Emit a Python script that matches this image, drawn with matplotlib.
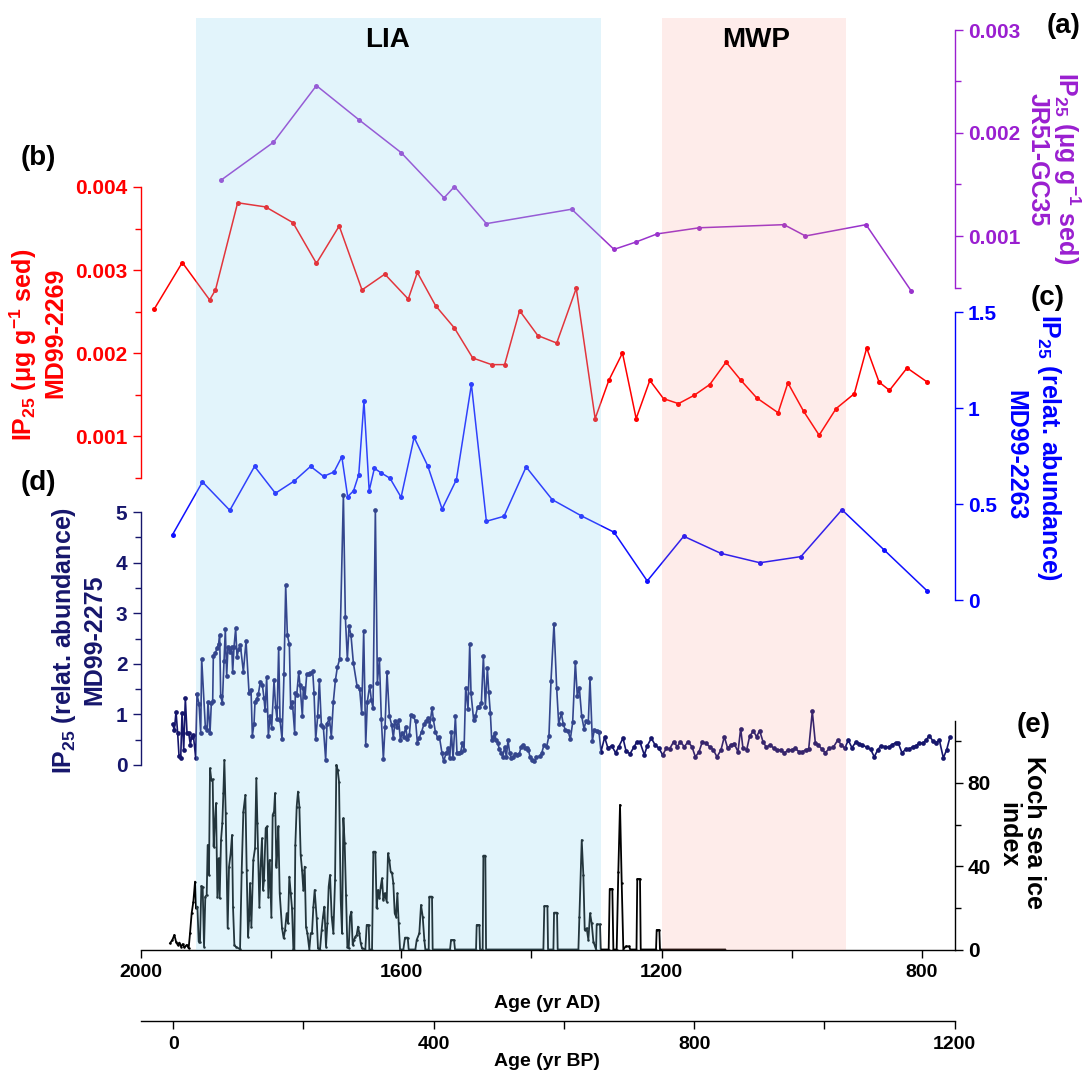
import matplotlib
matplotlib.use('Agg')
import matplotlib.pyplot as plt
from matplotlib.ticker import FixedLocator, FixedFormatter

plt.rcParams['font.family'] = ['Liberation Sans', 'DejaVu Sans']
plt.rcParams['font.weight'] = 'bold'
plt.rcParams['mathtext.fontset'] = 'custom'
plt.rcParams['mathtext.rm'] = 'Liberation Sans:bold'
plt.rcParams['mathtext.it'] = 'Liberation Sans:bold'
plt.rcParams['mathtext.bf'] = 'Liberation Sans:bold'
plt.rcParams['mathtext.default'] = 'rm'

# ---------------- data ----------------
LIA = (1915, 1293)
MWP = (1200, 917)

# (a) JR51-GC35 IP25 (ug/g sed)
a_age = [1877, 1796, 1730, 1665, 1600, 1534, 1518, 1469, 1338, 1273, 1240, 1207,
         1142, 1012, 979, 886, 817]
a_val = [0.00154, 0.00191, 0.00246, 0.00213, 0.00181, 0.00137, 0.00148, 0.00112,
         0.00126, 0.00087, 0.00094, 0.00102, 0.00108, 0.00111, 0.00100, 0.00111, 0.00047]

# (b) MD99-2269 IP25 (ug/g sed)
b_age = [1979, 1936, 1894, 1885, 1851, 1808, 1766, 1730, 1695, 1660,
         1625, 1589, 1575, 1547, 1518, 1490, 1461, 1441, 1418, 1390,
         1361, 1331, 1302, 1281, 1260, 1239, 1218, 1197, 1174, 1150,
         1126, 1101, 1078, 1054, 1021, 1006, 982, 958, 932, 904,
         885, 866, 850, 823, 792]
b_val = [0.00253, 0.00309, 0.00264, 0.00276, 0.00381, 0.00376, 0.00357, 0.00308, 0.00353, 0.00276,
         0.00295, 0.00265, 0.00297, 0.00257, 0.00230, 0.00194, 0.00186, 0.00186, 0.00251, 0.00221,
         0.00212, 0.00278, 0.00121, 0.00167, 0.00200, 0.00121, 0.00167, 0.00145, 0.00139, 0.00149,
         0.00162, 0.00189, 0.00167, 0.00146, 0.00128, 0.00164, 0.00130, 0.00101, 0.00133, 0.00151,
         0.00206, 0.00165, 0.00155, 0.00182, 0.00165]

# (c) MD99-2263 IP25 (relative abundance)
c_age = [1951, 1905, 1863, 1825, 1793, 1764, 1739, 1719, 1703, 1691,
         1682, 1673, 1665, 1657, 1649, 1641, 1631, 1617, 1600, 1580,
         1559, 1537, 1515, 1492, 1469, 1442, 1408, 1368, 1323, 1273,
         1222, 1166, 1109, 1049, 986, 923, 858, 792]
c_val = [0.340, 0.615, 0.467, 0.696, 0.556, 0.620, 0.696, 0.644, 0.667, 0.746,
         0.538, 0.569, 0.653, 1.036, 0.569, 0.686, 0.663, 0.634, 0.535, 0.847,
         0.698, 0.474, 0.627, 1.123, 0.410, 0.436, 0.693, 0.523, 0.438, 0.353,
         0.099, 0.332, 0.243, 0.194, 0.226, 0.470, 0.260, 0.047]

# (d) MD99-2275 IP25 (relative abundance)
d_age = [1950.7, 1948.2, 1945.6, 1943.1, 1941.0, 1938.4, 1936.4, 1933.8, 1931.3, 1928.7,
         1926.2, 1923.6, 1921.6, 1919.0, 1915.4, 1913.4, 1910.3, 1907.7, 1906.2, 1900.6,
         1898.0, 1896.5, 1893.4, 1891.4, 1889.3, 1888.3, 1885.2, 1882.7, 1880.1, 1878.6,
         1877.0, 1874.5, 1871.9, 1869.9, 1867.8, 1865.8, 1862.7, 1860.1, 1858.6, 1856.5,
         1854.0, 1851.9, 1849.4, 1846.8, 1842.2, 1838.1, 1833.5, 1830.4, 1828.4, 1825.8,
         1824.3, 1821.7, 1819.2, 1816.1, 1813.0, 1810.5, 1808.9, 1806.4, 1803.8, 1801.3,
         1798.7, 1795.1, 1792.6, 1790.5, 1788.0, 1785.9, 1782.8, 1779.8, 1777.2, 1774.6,
         1771.6, 1769.5, 1767.0, 1763.4, 1762.4, 1760.3, 1757.2, 1755.2, 1751.6, 1750.1,
         1747.5, 1744.9, 1741.4, 1739.3, 1735.7, 1733.7, 1731.1, 1728.1, 1725.5, 1722.4,
         1719.4, 1715.8, 1713.7, 1710.1, 1707.1, 1704.0, 1700.9, 1697.9, 1694.3, 1688.6,
         1685.6, 1682.5, 1679.9, 1676.9, 1673.3, 1667.6, 1663.6, 1660.5, 1657.4, 1654.3,
         1651.8, 1648.2, 1645.6, 1643.1, 1639.5, 1636.4, 1633.3, 1630.3, 1627.2, 1624.6,
         1621.6, 1618.0, 1614.4, 1611.9, 1609.3, 1606.7, 1603.7, 1601.1, 1598.5, 1596.0,
         1592.9, 1590.4, 1587.3, 1584.7, 1581.1, 1577.6, 1575.0, 1572.0, 1568.4, 1564.8,
         1561.7, 1558.6, 1556.1, 1552.5, 1550.4, 1547.4, 1543.8, 1541.2, 1537.1, 1534.6,
         1531.0, 1527.9, 1525.3, 1522.8, 1520.2, 1516.6, 1514.1, 1511.0, 1508.4, 1505.9,
         1503.3, 1500.8, 1497.2, 1494.6, 1492.6, 1488.5, 1485.9, 1482.3, 1479.8, 1476.7,
         1473.6, 1470.6, 1467.5, 1465.4, 1462.9, 1460.8, 1458.3, 1456.2, 1454.2, 1451.6,
         1449.1, 1446.0, 1443.9, 1440.9, 1438.3, 1435.8, 1433.2, 1430.6, 1427.6, 1424.5,
         1421.9, 1418.4, 1415.8, 1413.2, 1410.2, 1407.1, 1404.5, 1402.0, 1398.4, 1395.3,
         1392.2,
         1386.7, 1384.1, 1380.6, 1376.5, 1372.9, 1369.8, 1365.2, 1361.1, 1358.0, 1353.9,
         1350.9, 1347.8, 1343.7, 1340.1, 1336.5, 1332.4, 1329.4, 1326.3, 1322.7, 1319.1,
         1316.1, 1312.5, 1309.9, 1306.3, 1303.3, 1299.7, 1296.1, 1293.0, 1287.4, 1282.3,
         1276.6, 1270.5, 1265.9, 1259.2, 1254.6, 1248.5, 1242.3, 1237.7, 1233.1, 1226.5,
         1221.9, 1215.7, 1210.1, 1204.0, 1198.3, 1192.7, 1187.6, 1181.4, 1175.8, 1171.2,
         1165.0, 1159.4, 1153.3, 1148.1, 1142.5, 1137.4, 1131.8, 1126.1, 1120.5, 1114.9,
         1108.7, 1103.6, 1098.5, 1093.4, 1088.3, 1082.6, 1078.5, 1075.0, 1069.3, 1064.7,
         1059.1, 1054.0, 1049.4, 1044.2, 1039.1, 1033.0, 1027.9, 1022.7, 1016.6, 1011.5,
         1005.8, 1000.2, 994.6, 988.9, 983.8, 978.7, 974.1, 968.5, 963.9, 959.8,
         954.1, 948.5, 942.4, 936.2, 929.6, 923.9, 918.8, 913.2, 907.6, 901.4,
         896.3, 891.7, 885.0, 878.9, 873.3, 868.1, 863.0, 856.9, 851.2, 846.1,
         840.5, 836.4, 830.8, 825.1, 820.0, 814.4, 809.3, 804.1, 799.0, 793.9,
         788.8, 783.7, 778.5, 773.4, 767.3, 762.2, 757.1]
d_val = [0.81, 0.69, 1.05, 0.63, 0.18, 0.13, 1.03, 0.30, 1.32, 0.63,
         0.64, 0.40, 0.56, 0.59, 0.14, 1.40, 1.21, 0.63, 2.10, 0.76,
         0.69, 1.25, 0.64, 1.22, 1.26, 2.15, 2.21, 2.31, 2.39, 2.57,
         1.37, 1.22, 2.06, 2.68, 1.76, 2.34, 2.24, 2.34, 1.84, 2.34,
         2.70, 2.14, 2.29, 2.37, 1.84, 2.45, 1.43, 1.48, 0.58, 0.82,
         1.25, 1.30, 1.40, 1.65, 1.58, 1.32, 1.09, 1.73, 0.58, 0.96,
         0.74, 1.67, 1.14, 0.91, 2.32, 0.89, 0.51, 1.80, 3.55, 2.56,
         2.39, 1.15, 1.25, 0.64, 1.42, 1.38, 1.83, 1.58, 0.96, 1.52,
         1.34, 1.80, 1.80, 1.82, 1.85, 1.43, 0.51, 0.96, 1.68, 0.79,
         0.76, 0.10, 0.82, 0.92, 0.56, 1.25, 1.67, 1.93, 2.09, 5.34,
         2.93, 2.09, 2.75, 2.56, 2.02, 1.56, 1.50, 1.02, 2.64, 0.40,
         1.25, 1.57, 1.28, 1.12, 5.04, 1.63, 2.09, 0.90, 0.12, 0.76,
         1.84, 0.97, 0.79, 0.54, 0.86, 0.76, 0.88, 0.49, 0.63, 0.56,
         0.76, 0.51, 0.59, 0.99, 0.96, 0.86, 0.44, 0.54, 0.66, 0.81,
         0.86, 0.92, 0.77, 1.12, 0.90, 0.66, 0.53, 0.56, 0.23, 0.07,
         0.23, 0.33, 0.13, 0.66, 0.13, 0.96, 0.23, 0.23, 0.26, 0.43,
         0.30, 1.53, 1.10, 2.39, 1.42, 0.88, 0.96, 1.15, 1.15, 1.23,
         2.15, 1.15, 1.91, 1.45, 1.02, 0.49, 0.56, 0.64, 0.49, 0.44,
         0.31, 0.24, 0.16, 0.36, 0.16, 0.49, 0.23, 0.13, 0.16, 0.22,
         0.20, 0.22, 0.36, 0.40, 0.33, 0.34, 0.30, 0.16, 0.10, 0.07,
         0.15,
         0.18, 0.23, 0.40, 0.36, 0.58, 1.66, 2.79, 1.53, 0.82, 1.02,
         0.81, 0.69, 0.68, 0.51, 0.84, 2.04, 1.36, 1.53, 0.97, 0.72,
         0.86, 0.84, 1.71, 0.48, 0.69, 0.68, 0.66, 0.26, 0.55, 0.33,
         0.38, 0.24, 0.36, 0.53, 0.28, 0.22, 0.36, 0.46, 0.45, 0.20,
         0.38, 0.53, 0.40, 0.33, 0.20, 0.33, 0.32, 0.46, 0.36, 0.46,
         0.36, 0.46, 0.36, 0.16, 0.26, 0.46, 0.43, 0.36, 0.30, 0.16,
         0.30, 0.56, 0.33, 0.40, 0.42, 0.26, 0.72, 0.33, 0.30, 0.57,
         0.67, 0.56, 0.68, 0.46, 0.35, 0.40, 0.33, 0.30, 0.30, 0.23,
         0.30, 0.30, 0.33, 0.26, 0.26, 0.30, 0.31, 1.06, 0.44, 0.40,
         0.32, 0.24, 0.33, 0.35, 0.49, 0.40, 0.33, 0.49, 0.34, 0.46,
         0.42, 0.40, 0.35, 0.31, 0.16, 0.30, 0.38, 0.36, 0.35, 0.40,
         0.44, 0.43, 0.24, 0.31, 0.31, 0.36, 0.38, 0.44, 0.43, 0.49,
         0.58, 0.48, 0.44, 0.49, 0.14, 0.30, 0.55]

# (e) Koch sea ice index
e_age = [1954.8, 1951.2, 1948.2, 1945.6, 1943.1, 1940.5, 1937.9, 1935.4, 1932.8, 1929.2,
         1926.2, 1924.1, 1921.6, 1919.0, 1916.4, 1914.9, 1912.8, 1910.8, 1908.8, 1906.7,
         1904.7, 1902.6, 1900.6, 1898.5, 1897.0, 1895.0, 1893.4, 1891.4, 1889.3, 1887.8,
         1886.2, 1884.2, 1882.1, 1880.1, 1878.6, 1876.5, 1874.5, 1872.9, 1871.4, 1869.3,
         1866.3, 1864.2, 1861.7, 1859.6, 1858.1, 1856.0, 1854.0, 1847.3, 1844.8, 1842.2,
         1839.1, 1837.1, 1835.0, 1833.5, 1832.0, 1829.9, 1826.9, 1824.3, 1822.3, 1820.7,
         1817.6, 1815.6, 1813.6, 1812.0, 1810.5, 1807.9, 1805.9, 1803.8, 1801.8, 1799.2,
         1797.2, 1795.1, 1793.6, 1791.5, 1790.0, 1788.5, 1786.4, 1782.8, 1780.3, 1778.2,
         1775.7, 1773.6, 1771.6, 1769.5, 1767.5, 1765.4, 1763.9, 1762.4, 1760.3, 1758.3,
         1756.2, 1754.2, 1752.1, 1750.1, 1748.0, 1746.0, 1743.9, 1740.9, 1738.8, 1736.8,
         1734.7, 1732.7, 1729.6, 1727.6, 1724.5, 1722.0, 1719.9, 1717.8, 1715.3, 1713.2,
         1711.2, 1709.1, 1706.6, 1704.0, 1701.4, 1699.4, 1697.3, 1695.3, 1692.7, 1690.7,
         1688.6, 1686.6, 1684.5, 1682.5, 1680.4, 1678.4, 1676.4, 1674.3, 1672.3, 1670.2,
         1668.2, 1666.1, 1664.1, 1662.0, 1660.0, 1654.9, 1652.8, 1649.7, 1648.7, 1644.6,
         1642.6, 1639.5, 1637.5, 1635.4, 1633.3, 1631.3, 1629.3, 1627.2, 1625.2, 1622.1,
         1620.1, 1618.0, 1616.0, 1613.9, 1611.9, 1609.8, 1607.8, 1605.7, 1603.7, 1601.6,
         1596.5, 1594.0, 1589.8, 1588.3, 1578.1, 1576.0, 1572.0, 1569.4, 1566.8, 1564.3,
         1562.7, 1557.6, 1556.6, 1552.5, 1551.5, 1524.8, 1523.3, 1518.7, 1517.2, 1484.9,
         1483.9, 1479.8, 1478.8, 1474.7, 1473.6, 1470.6, 1469.5, 1381.5, 1380.0, 1375.3,
         1374.3, 1366.1, 1365.1, 1360.5, 1359.5, 1327.7, 1326.2, 1322.6, 1320.1, 1318.0,
         1315.0, 1312.4, 1309.8, 1307.3, 1304.7, 1300.6, 1299.6, 1294.5, 1293.5, 1281.2,
         1279.6, 1275.6, 1274.0, 1268.9, 1266.4, 1263.8, 1261.2, 1258.7, 1255.0, 1250.0,
         1248.0, 1238.5, 1237.3, 1233.1, 1232.0, 1208.5, 1207.5, 1203.4, 1202.4, 1102.6]
e_val = [3.0, 4.6, 7.0, 3.8, 2.2, 3.3, 1.4, 2.6, 1.0, 2.2,
         0.6, 7.8, 17.4, 23.0, 32.6, 19.8, 20.6, 3.8, 3.8, 30.5,
         30.2, 1.4, 25.4, 26.2, 50.2, 35.8, 87.1, 81.5, 81.8, 49.4,
         59.9, 70.3, 25.4, 43.8, 24.6, 52.6, 60.7, 75.1, 91.1, 65.5,
         10.2, 39.8, 46.2, 55.0, 20.6, 2.2, 1.4, 0.1, 37.4, 66.3,
         74.3, 38.2, 6.2, 14.2, 31.8, 11.0, 43.0, 48.6, 82.3, 60.7,
         20.6, 40.6, 53.4, 28.6, 33.4, 58.3, 59.1, 25.4, 43.0, 15.8,
         64.7, 66.3, 75.1, 39.8, 47.8, 59.1, 27.0, 10.2, 5.4, 9.4,
         17.4, 12.6, 35.0, 27.0, 19.8, 0.1, 0.0, 50.2, 68.7, 75.9,
         68.7, 45.4, 38.2, 28.6, 39.8, 11.0, 7.8, 0.0, 7.8, 7.8,
         20.6, 28.6, 15.0, 0.6, 0.0, 9.4, 15.8, 20.6, 1.4, 12.6,
         30.2, 35.8, 15.8, 7.8, 33.4, 88.7, 86.3, 80.7, 23.8, 7.8,
         63.1, 51.0, 26.2, 1.4, 0.6, 15.8, 18.2, 2.2, 4.6, 6.2,
         7.0, 11.0, 7.8, 3.0, 0.6, 0.0, 11.8, 11.8, 0.0, 0.0,
         47.0, 47.0, 19.8, 28.6, 24.6, 30.2, 34.2, 23.8, 27.0, 23.0,
         46.2, 43.0, 37.4, 36.6, 31.8, 17.4, 15.8, 27.0, 12.6, 0.0,
         0.0, 5.7, 5.7, 0.0, 0.0, 4.6, 7.8, 21.4, 15.8, 4.6,
         0.0, 0.0, 25.4, 25.4, 0.0, 0.0, 4.6, 4.6, 0.0, 0.0,
         11.8, 11.8, 0.0, 0.0, 45.1, 45.1, 0.0, 0.0, 20.9, 20.9,
         0.0, 0.0, 17.7, 17.7, 0.0, 0.0, 15.8, 52.6, 35.8, 9.4,
         10.2, 4.6, 17.4, 12.6, 3.8, 0.0, 12.1, 12.1, 0.0, 0.0,
         29.1, 29.1, 0.0, 0.0, 37.4, 69.5, 31.8, 0.0, 1.5, 1.5,
         0.0, 0.0, 33.9, 33.9, 0.0, 0.0, 9.4, 9.4, 0.0, 0.0]

ad_ticks = [2000, 1600, 1200, 800]
ad_minor = [1800, 1400, 1000]
bp_ticks = [0, 400, 800, 1200]
bp_minor = [200, 600, 1000]

# ---------------- layout ----------------
W, H = 1089, 1077
fig = plt.figure(figsize=(W / 100, H / 100), dpi=100)


def fx(px):
    return px / W


def fy(py):
    return 1 - py / H


X0, X1 = 140.6, 954.6
Y0, Y1 = 18.0, 949.5
XLIM = (2000, 750)
rect = [fx(X0), fy(Y1), fx(X1) - fx(X0), fy(Y0) - fy(Y1)]


def ylim_from(v1, p1, v2, p2):
    s = (v1 - v2) / (p2 - p1)
    return v1 - (Y1 - p1) * s, v1 + (p1 - Y0) * s


def make_ax(label):
    ax = fig.add_axes(rect, label=label)
    ax.set_facecolor('none')
    ax.set_xlim(*XLIM)
    for sp in ax.spines.values():
        sp.set_visible(False)
    ax.xaxis.set_visible(False)
    ax.yaxis.set_visible(False)
    return ax


TICK_FS = 15


def setup_y(ax, side, color, lims, bounds, major, labels, minor):
    ax.set_ylim(*lims)
    ax.yaxis.set_visible(True)
    sp = ax.spines[side]
    sp.set_visible(True)
    sp.set_color(color)
    sp.set_linewidth(1.0)
    sp.set_bounds(*bounds)
    ax.yaxis.set_ticks_position(side)
    ax.yaxis.set_major_locator(FixedLocator(major))
    ax.yaxis.set_major_formatter(FixedFormatter(labels))
    ax.yaxis.set_minor_locator(FixedLocator(minor))
    ax.tick_params(axis='y', which='major', direction='out', length=6, width=1,
                   color=color, labelcolor=color, labelsize=TICK_FS, pad=3.5)
    ax.tick_params(axis='y', which='minor', direction='out', length=4, width=1,
                   color=color)


PURPLE = '#9a1fd0'
RED = '#ff0000'
BLUE = '#0000ff'
NAVY = '#16166c'

# main AD axis
ax0 = make_ax('main')
ax0.xaxis.set_visible(True)
ax0.spines['bottom'].set_visible(True)
ax0.spines['bottom'].set_linewidth(1.0)
ax0.set_ylim(0, 1)
ax0.xaxis.set_major_locator(FixedLocator(ad_ticks))
ax0.xaxis.set_minor_locator(FixedLocator(ad_minor))
ax0.tick_params(axis='x', which='major', direction='out', length=6, width=1,
                labelsize=14, pad=4.5)
ax0.tick_params(axis='x', which='minor', direction='out', length=6, width=1)

# BP axis
axbp = fig.add_axes([fx(X0), fy(1021), fx(X1) - fx(X0), 0.0005], label='bp')
axbp.set_facecolor('none')
axbp.set_xlim(1950 - XLIM[0], 1950 - XLIM[1])
for k in ['top', 'left', 'right']:
    axbp.spines[k].set_visible(False)
axbp.spines['bottom'].set_linewidth(1.0)
axbp.yaxis.set_visible(False)
axbp.xaxis.set_major_locator(FixedLocator(bp_ticks))
axbp.xaxis.set_minor_locator(FixedLocator(bp_minor))
axbp.tick_params(axis='x', which='major', direction='out', length=6, width=1,
                 labelsize=14, pad=4.5)
axbp.tick_params(axis='x', which='minor', direction='out', length=6, width=1)

# (a)
axA = make_ax('a')
setup_y(axA, 'right', PURPLE, ylim_from(0.003, 30, 0.001, 236), (0.0005, 0.003),
        [0.001, 0.002, 0.003], ['0.001', '0.002', '0.003'], [0.0005, 0.0015, 0.0025])
axA.plot(a_age, a_val, '-o', color='#9933cc', lw=1.1, ms=3.6, mew=0)

# (b)
axB = make_ax('b')
setup_y(axB, 'left', RED, ylim_from(0.004, 187, 0.001, 436), (0.0005, 0.004),
        [0.001, 0.002, 0.003, 0.004], ['0.001', '0.002', '0.003', '0.004'],
        [0.0005, 0.0015, 0.0025, 0.0035])
axB.plot(b_age, b_val, '-o', color=RED, lw=1.1, ms=3.6, mew=0)

# (c)
axC = make_ax('c')
setup_y(axC, 'right', BLUE, ylim_from(1.5, 312, 0.0, 600), (0, 1.5),
        [0, 0.5, 1, 1.5], ['0', '0.5', '1', '1.5'], [])
axC.plot(c_age, c_val, '-o', color='#1010ff', lw=1.1, ms=3.6, mew=0)

# (d)
axD = make_ax('d')
setup_y(axD, 'left', NAVY, ylim_from(5, 512, 0, 765), (0, 5),
        [0, 1, 2, 3, 4, 5], ['0', '1', '2', '3', '4', '5'],
        [0.5, 1.5, 2.5, 3.5, 4.5])
axD.plot(d_age, d_val, '-o', color=NAVY, lw=1.2, ms=3.4, mew=0)

# (e)
axE = make_ax('e')
setup_y(axE, 'right', 'black', ylim_from(80, 783, 0, 949.5), (0, 110),
        [0, 40, 80], ['0', '40', '80'], [20, 60, 100])
axE.plot(e_age, e_val, '-o', color='black', lw=1.3, ms=1.8, mew=0)

# shading overlay
axS = make_ax('shade')
axS.set_zorder(10)
axS.set_ylim(0, 1)
axS.axvspan(LIA[0], LIA[1], color='#8fd7f3', alpha=0.25, lw=0)
axS.axvspan(MWP[0], MWP[1], color='#fa8072', alpha=0.15, lw=0)

# ---------------- texts ----------------
TZ = 50
fig.text(fx(388), fy(40), 'LIA', ha='center', va='center', fontsize=20, zorder=TZ)
fig.text(fx(756), fy(40), 'MWP', ha='center', va='center', fontsize=20, zorder=TZ)

fig.text(fx(547), fy(1003), 'Age (yr AD)', ha='center', va='center', fontsize=14)
fig.text(fx(547), fy(1062), 'Age (yr BP)', ha='center', va='center', fontsize=14)

LS = 18
fig.text(fx(1067), fy(168), 'IP$_{25}$ (μg g$^{-1}$ sed)', rotation=270,
         ha='center', va='center', fontsize=LS, color=PURPLE)
fig.text(fx(1038), fy(160), 'JR51-GC35', rotation=270,
         ha='center', va='center', fontsize=LS, color=PURPLE)

fig.text(fx(23), fy(345), 'IP$_{25}$ (μg g$^{-1}$ sed)', rotation=90,
         ha='center', va='center', fontsize=LS, color=RED)
fig.text(fx(55), fy(333), 'MD99-2269', rotation=90,
         ha='center', va='center', fontsize=LS, color=RED)

fig.text(fx(1049), fy(448), 'IP$_{25}$ (relat. abundance)', rotation=270,
         ha='center', va='center', fontsize=LS, color=BLUE)
fig.text(fx(1015), fy(455), 'MD99-2263', rotation=270,
         ha='center', va='center', fontsize=LS, color=BLUE)

fig.text(fx(64), fy(640), 'IP$_{25}$ (relat. abundance)', rotation=90,
         ha='center', va='center', fontsize=LS, color=NAVY)
fig.text(fx(94), fy(640), 'MD99-2275', rotation=90,
         ha='center', va='center', fontsize=LS, color=NAVY)

fig.text(fx(1034), fy(832), 'Koch sea ice', rotation=270,
         ha='center', va='center', fontsize=LS, color='black')
fig.text(fx(1008), fy(835), 'index', rotation=270,
         ha='center', va='center', fontsize=LS, color='black')

PL = 20
fig.text(fx(1064), fy(26), '(a)', ha='center', va='center', fontsize=PL)
fig.text(fx(38), fy(158), '(b)', ha='center', va='center', fontsize=PL)
fig.text(fx(1048), fy(298), '(c)', ha='center', va='center', fontsize=PL)
fig.text(fx(38), fy(483), '(d)', ha='center', va='center', fontsize=PL)
fig.text(fx(1034), fy(725), '(e)', ha='center', va='center', fontsize=PL)

fig.savefig('out.png', dpi=100)
